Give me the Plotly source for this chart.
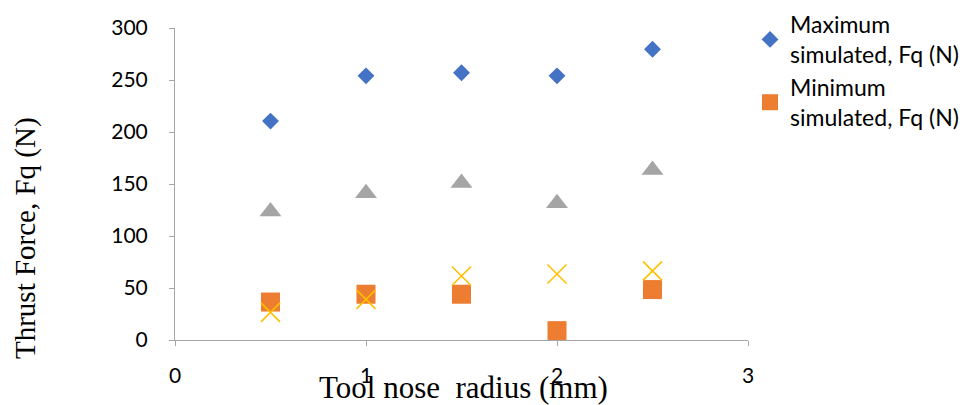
import plotly.graph_objects as go

radius = [0.5, 1.0, 1.5, 2.0, 2.5]
max_sim = [210.5, 254, 257, 254, 279.5]
min_sim = [36.5, 44, 44, 9, 48.5]
series3 = [123.5, 141, 151, 131.5, 163.5]
series4 = [26.5, 39, 61.5, 63.5, 66.5]

x_ticks = [0, 1, 2, 3]
y_ticks = [0, 50, 100, 150, 200, 250, 300]

tick_font = dict(family="Lato, 'Open Sans', sans-serif", size=21, color="#000000")
title_font = dict(family="'Liberation Serif', 'Times New Roman', serif", size=31, color="#000000")

fig = go.Figure()
fig.add_trace(go.Scatter(x=radius, y=max_sim, mode="markers", name="Maximum<br>simulated, Fq (N)",
                         marker=dict(symbol="diamond", size=13, color="#4472c4"), cliponaxis=False))
fig.add_trace(go.Scatter(x=radius, y=min_sim, mode="markers", name="Minimum<br>simulated, Fq (N)",
                         marker=dict(symbol="square", size=19, color="#ed7d31"), cliponaxis=False))
fig.add_trace(go.Scatter(x=radius, y=series3, mode="markers", name="Series 3", showlegend=False,
                         marker=dict(symbol="triangle-up", size=19, color="#a5a5a5"), cliponaxis=False))
fig.add_trace(go.Scatter(x=radius, y=series4, mode="markers", name="Series 4", showlegend=False,
                         marker=dict(symbol="x-thin", size=19, color="#ffc000",
                                     line=dict(width=1.6, color="#ffc000")), cliponaxis=False))

# page body has an 8px margin, so the figure is 8px smaller than the window
W, H = 965, 397
PL, PT, PR, PB = 175, 28, 748, 340  # plot area in window pixels
axis_color = "#a6a6a6"
fig.update_layout(
    width=W, height=H,
    margin=dict(l=PL - 8, r=W + 8 - PR, t=PT - 8, b=H + 8 - PB, autoexpand=False),
    plot_bgcolor="white", paper_bgcolor="white",
    xaxis=dict(range=[0, 3], tickvals=x_ticks, showgrid=False, zeroline=False,
               showline=True, linecolor=axis_color, linewidth=1,
               ticks="outside", ticklen=5, tickcolor=axis_color,
               tickfont=tick_font, ticklabelstandoff=12, automargin=False),
    yaxis=dict(range=[0, 300], tickvals=y_ticks, showgrid=False, zeroline=False,
               showline=True, linecolor=axis_color, linewidth=1,
               ticks="outside", ticklen=5, tickcolor=axis_color,
               tickfont=tick_font, ticklabelstandoff=17, automargin=False),
    legend=dict(x=(750 - PL) / (PR - PL), y=1 + (PT - 3) / (PB - PT), xanchor="left", yanchor="top",
                font=dict(family="Lato, 'Open Sans', sans-serif", size=23, color="#000000"),
                bgcolor="rgba(0,0,0,0)", itemsizing="trace", tracegroupgap=0),
    showlegend=True,
    annotations=[
        dict(text="Tool nose\u00a0 radius (mm)", xref="paper", yref="paper",
             x=(463 - PL) / (PR - PL), y=(PB - 388) / (PB - PT), xanchor="center", yanchor="middle",
             showarrow=False, font=title_font),
        dict(text="Thrust Force, Fq (N)", xref="paper", yref="paper",
             x=(25 - PL) / (PR - PL), y=(PB - 238) / (PB - PT), xanchor="center", yanchor="middle",
             textangle=-90, showarrow=False, font=dict(title_font, size=29)),
    ],
)

fig.write_html("out.html")
